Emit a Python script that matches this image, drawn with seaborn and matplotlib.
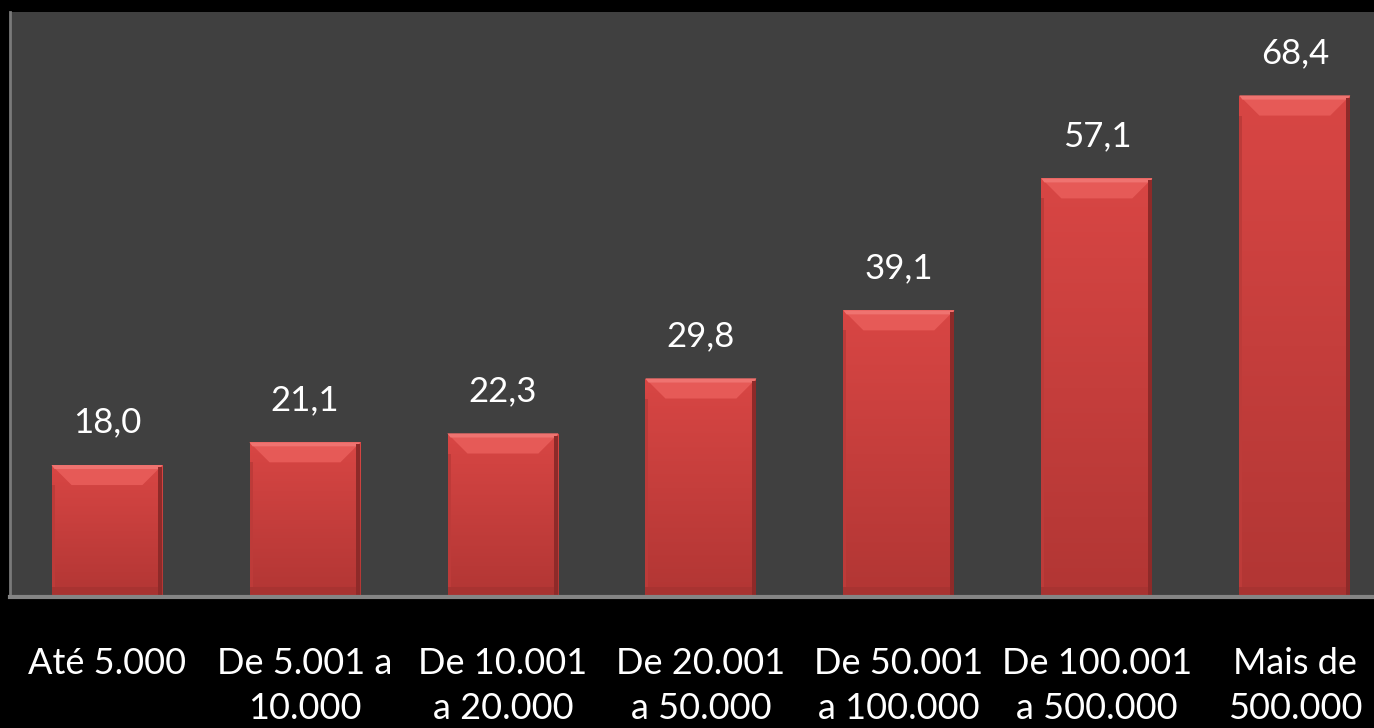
import numpy as np
import pandas as pd
import seaborn as sns
import matplotlib.pyplot as plt
from matplotlib.patches import Polygon, Rectangle
from matplotlib.colors import LinearSegmentedColormap

# data
categories = ['Até 5.000', 'De 5.001 a\n10.000', 'De 10.001\na 20.000', 'De 20.001\na 50.000',
              'De 50.001\na 100.000', 'De 100.001\na 500.000', 'Mais de\n500.000']
values = [18.0, 21.1, 22.3, 29.8, 39.1, 57.1, 68.4]
value_labels = ['18,0', '21,1', '22,3', '29,8', '39,1', '57,1', '68,4']

df = pd.DataFrame({'faixa': categories, 'valor': values})

sns.set_style('dark')
plt.rcParams['font.family'] = ['Lato', 'DejaVu Sans']

fig = plt.figure(figsize=(13.74, 7.28), dpi=100, facecolor='black')
ax = fig.add_axes([10/1374, 1-597/728, 1-10/1374, (597-12)/728])
ax.set_facecolor('#404040')

sns.barplot(data=df, x='faixa', y='valor', color='#cc4240', width=0.56,
            saturation=1, ax=ax, zorder=2, edgecolor='none', linewidth=0)

ax.set_xlim(-0.49, 6.40)
ax.set_ylim(0, 79.8)

# bevel look on each bar
grad = LinearSegmentedColormap.from_list('g', ['#b23634', '#d84644'])
px_x = 198.0   # px per category
px_y = 7.33    # px per unit
for p in list(ax.patches):
    x0, y0, w, h = p.get_x(), p.get_y(), p.get_width(), p.get_height()
    img = ax.imshow(np.linspace(0, 1, 100).reshape(-1, 1), cmap=grad, origin='lower',
                    extent=[x0, x0 + w, y0, y0 + h], aspect='auto', zorder=2.1)
    img.set_clip_path(p)
    bx, by = 20 / px_x, 20 / px_y
    top = y0 + h
    ax.add_patch(Polygon([(x0, top), (x0 + w, top), (x0 + w - bx, top - by), (x0 + bx, top - by)],
                         closed=True, facecolor='#e65a57', edgecolor='none', zorder=2.2))
    ax.add_patch(Polygon([(x0, top), (x0 + w, top), (x0 + w - 3 / px_x, top - 4 / px_y), (x0 + 3 / px_x, top - 4 / px_y)],
                         closed=True, facecolor='#ef7370', edgecolor='none', zorder=2.3))
    ax.add_patch(Rectangle((x0 + w - 4 / px_x, y0), 4 / px_x, h - 2 / px_y,
                           facecolor='#8e2a29', edgecolor='none', zorder=2.3))
    ax.add_patch(Rectangle((x0, y0), 3 / px_x, h - by, facecolor='#bd3b39',
                           edgecolor='none', zorder=2.3))
    ax.add_patch(Rectangle((x0, y0), w - 4 / px_x, 10 / px_y, facecolor='#a83331',
                           edgecolor='none', zorder=2.3))

ax.set_xlim(-0.49, 6.40)
ax.set_ylim(0, 79.8)

for i, v in enumerate(values):
    ax.annotate(value_labels[i], xy=(i, v), xytext=(0, 19), textcoords='offset points',
                ha='center', va='bottom', color='white', fontsize=25, zorder=5)

ax.set_xlabel('')
ax.set_ylabel('')
ax.set_yticks([])
ax.tick_params(axis='x', length=0, pad=36, colors='white', labelsize=26)
for lbl in ax.get_xticklabels():
    lbl.set_linespacing(1.45)

for s in ['top', 'right']:
    ax.spines[s].set_visible(False)
ax.spines['left'].set_visible(True)
ax.spines['left'].set_color('#7a7a7a')
ax.spines['left'].set_linewidth(2)
ax.spines['bottom'].set_visible(True)
ax.spines['bottom'].set_color('#858585')
ax.spines['bottom'].set_linewidth(3)
ax.grid(False)

fig.savefig('out.png', dpi=100, facecolor='black')
